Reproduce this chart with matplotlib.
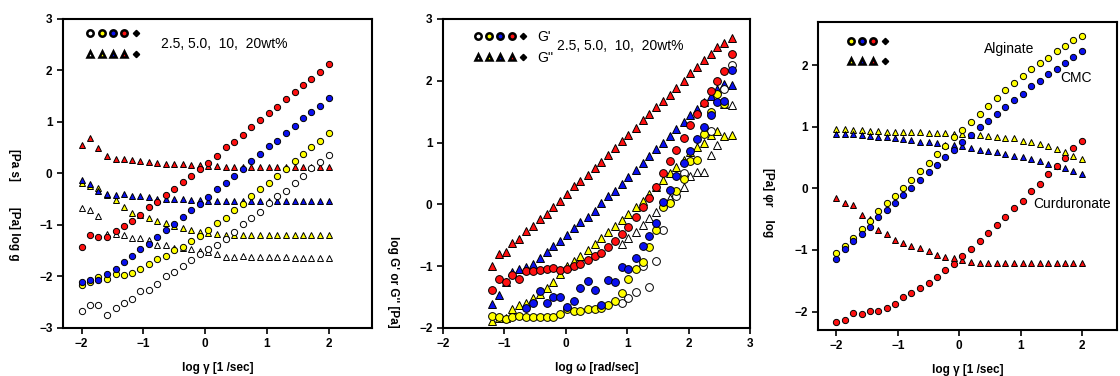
import numpy as np
import matplotlib
matplotlib.use("Agg")
import matplotlib.pyplot as plt
from matplotlib.lines import Line2D
from matplotlib.legend_handler import HandlerTuple

plt.rcParams['font.family'] = ['Liberation Sans', 'DejaVu Sans']

RED, BLUE, YEL, WHITE = '#ff1010', '#0a10f0', '#ffff00', 'white'
nan = np.nan

# ---- panel 1: viscosity vs shear rate (2.5, 5, 10, 20 wt%)
shear = [-2.0, -1.86, -1.73, -1.59, -1.45, -1.32, -1.18, -1.05, -0.91, -0.78,
         -0.64, -0.5, -0.36, -0.23, -0.09, 0.05, 0.19, 0.33, 0.47, 0.61,
         0.75, 0.89, 1.03, 1.17, 1.31, 1.45, 1.59, 1.72, 1.86, 2.0]

p1_circ_white = [-2.67, -2.55, -2.55, -2.75, -2.62, -2.51, -2.44, -2.29, -2.27, -2.15,
                 -2.00, -1.92, -1.80, -1.68, -1.57, -1.46, -1.39, -1.28, -1.13, -0.99,
                 -0.87, -0.75, -0.58, -0.44, -0.34, -0.18, -0.05, 0.10, 0.23, 0.36]
p1_circ_yellow = [-2.16, -2.11, -2.01, -2.04, -1.96, -1.98, -1.93, -1.85, -1.75, -1.67,
                  -1.61, -1.49, -1.43, -1.31, -1.21, -1.10, -0.97, -0.86, -0.70, -0.60,
                  -0.43, -0.30, -0.18, -0.05, 0.08, 0.24, 0.38, 0.52, 0.64, 0.78]
p1_circ_blue = [-2.11, -2.07, -2.06, -1.96, -1.85, -1.72, -1.61, -1.46, -1.36, -1.24,
                -1.10, -0.99, -0.85, -0.70, -0.59, -0.45, -0.30, -0.18, -0.05, 0.08,
                0.24, 0.38, 0.53, 0.63, 0.78, 0.92, 1.07, 1.20, 1.32, 1.47]
p1_circ_red = [-1.43, -1.20, -1.24, -1.24, -1.12, -1.02, -0.92, -0.81, -0.66, -0.56,
               -0.41, -0.30, -0.16, -0.04, 0.09, 0.20, 0.34, 0.51, 0.61, 0.75,
               0.90, 1.04, 1.18, 1.29, 1.44, 1.58, 1.72, 1.83, 1.98, 2.12]
p1_tri_white = [-0.67, -0.71, -0.83, -1.17, -1.17, -1.19, -1.26, -1.26, -1.30, -1.39,
                -1.39, -1.44, -1.44, -1.46, -1.50, -1.53, -1.57, -1.62, -1.62, -1.61,
                -1.62, -1.62, -1.63, -1.63, -1.63, -1.64, -1.64, -1.64, -1.64, -1.64]
p1_tri_yellow = [-0.18, -0.25, -0.29, -0.41, -0.51, -0.66, -0.76, -0.81, -0.86, -0.92,
                 -0.96, -1.02, -1.06, -1.10, -1.13, -1.15, -1.18, -1.20, -1.20, -1.20,
                 -1.20, -1.20, -1.20, -1.20, -1.20, -1.20, -1.20, -1.20, -1.20, -1.20]
p1_tri_blue = [-0.13, -0.20, -0.34, -0.39, -0.42, -0.40, -0.43, -0.44, -0.45, -0.49,
               -0.49, -0.50, -0.50, -0.51, -0.52, -0.53, -0.53, -0.53, -0.53, -0.53,
               -0.53, -0.53, -0.53, -0.53, -0.53, -0.53, -0.53, -0.53, -0.53, -0.53]
p1_tri_red = [0.56, 0.68, 0.50, 0.34, 0.29, 0.28, 0.27, 0.25, 0.23, 0.21,
              0.19, 0.19, 0.18, 0.17, 0.16, 0.15, 0.14, 0.13, 0.13, 0.13,
              0.13, 0.13, 0.13, 0.12, 0.12, 0.12, 0.12, 0.12, 0.12, 0.12]

# ---- panel 2: G' (circles) and G'' (triangles) vs frequency
freq = [-1.2, -1.09, -0.98, -0.87, -0.76, -0.64, -0.53, -0.42, -0.31, -0.2,
        -0.09, 0.02, 0.13, 0.24, 0.36, 0.47, 0.58, 0.69, 0.8, 0.91,
        1.02, 1.14, 1.25, 1.36, 1.47, 1.58, 1.69, 1.8, 1.92, 2.03,
        2.14, 2.25, 2.36, 2.47, 2.58, 2.7]

g2_white = [nan] * 19 + [-0.64, -0.55, -0.45, -0.34, -0.22, -0.12, 0.00, 0.11, 0.20, 0.28,
                         0.46, 0.53, 0.53, 0.80, 0.96, 1.62, 1.61]
g2_yellow = [-1.89, -1.84, -1.84, -1.70, -1.62, -1.60, -1.52, -1.45, -1.35, -1.26,
             -1.12, -1.00, -0.92, -0.84, -0.74, -0.64, -0.55, -0.45, -0.35, -0.25,
             -0.15, -0.04, 0.06, 0.17, 0.28, 0.39, 0.50, 0.60, 0.72, 0.85,
             0.93, 1.00, 1.12, 1.18, 1.11, 1.12]
g2_blue = [-1.61, -1.46, -1.25, -1.10, -1.05, -1.01, -0.96, -0.86, -0.77, -0.68,
           -0.60, -0.49, -0.39, -0.29, -0.20, -0.10, 0.02, 0.13, 0.22, 0.33,
           0.44, 0.56, 0.67, 0.78, 0.89, 0.99, 1.10, 1.22, 1.33, 1.44,
           1.55, 1.65, 1.75, 1.86, 1.94, 1.93]
g2_red = [-0.99, -0.80, -0.77, -0.62, -0.56, -0.43, -0.35, -0.23, -0.15, -0.04,
          0.05, 0.17, 0.30, 0.38, 0.48, 0.59, 0.69, 0.80, 0.91, 1.02,
          1.13, 1.24, 1.37, 1.47, 1.57, 1.68, 1.77, 1.89, 2.00, 2.12,
          2.23, 2.33, 2.43, 2.54, 2.61, 2.69]
g1_white = [nan] * 19 + [-1.60, -1.52, -1.41, -1.00, -1.33, -0.92, -0.41, nan, 0.14, 0.51,
                         nan, nan, nan, 1.18, nan, 1.87, 2.26]
g1_yellow = [-1.80, -1.83, -1.85, -1.82, -1.80, -1.83, -1.83, -1.83, -1.83, -1.83,
             -1.78, -1.69, -1.72, -1.72, -1.69, -1.69, -1.67, -1.63, -1.57, -1.44,
             -1.20, -1.05, -0.93, -0.69, -0.42, -0.05, 0.02, 0.22, 0.41, 0.70,
             0.72, 1.14, 1.49, 1.78, 1.63, nan]
g1_blue = [nan] * 5 + [-1.67, -1.60, -1.40, -1.59, -1.50, -1.50, -1.66, -1.56, -1.35, -1.24,
                       -1.38, -1.63, -1.22, -1.26, -1.02, -1.05, -0.87, -0.67, -0.51, -0.30,
                       0.04, 0.24, 0.46, 0.67, 0.86, 1.06, 1.25, 1.44, 1.65, 1.68, 2.18]
g1_red = [-1.39, -1.20, -1.25, -1.14, -1.20, -1.08, -1.07, -1.06, -1.05, -1.03,
          -1.06, -1.05, -0.99, -0.97, -0.90, -0.84, -0.78, -0.69, -0.59, -0.48,
          -0.36, -0.21, -0.04, 0.11, 0.28, 0.51, 0.70, 0.88, 1.07, 1.28,
          1.46, 1.64, 1.83, 2.00, 2.16, 2.43]

# ---- panel 3: Alginate (yellow), CMC (blue), Curduronate (red)
p3_circ_yellow = [-1.05, -0.93, -0.80, -0.66, -0.53, -0.37, -0.24, -0.12, 0.01, 0.14,
                  0.28, 0.41, 0.55, 0.68, 0.83, 0.95, 1.08, 1.21, 1.33, 1.47,
                  1.59, 1.71, 1.82, 1.93, 2.03, 2.12, 2.23, 2.31, 2.41, 2.47]
p3_circ_blue = [-1.14, -0.99, -0.86, -0.74, -0.62, -0.47, -0.35, -0.23, -0.11, 0.01,
                0.13, 0.26, 0.38, 0.51, 0.63, 0.75, 0.87, 0.99, 1.10, 1.20,
                1.32, 1.44, 1.53, 1.66, 1.74, 1.86, 1.94, 2.04, 2.13, 2.23]
p3_circ_red = [-2.17, -2.14, -2.02, -2.04, -1.99, -1.99, -1.95, -1.88, -1.77, -1.70,
               -1.62, -1.54, -1.44, -1.32, -1.23, -1.10, -0.99, -0.86, -0.72, -0.59,
               -0.47, -0.32, -0.20, -0.05, 0.07, 0.23, 0.37, 0.50, 0.65, 0.77]
p3_tri_yellow = [0.96, 0.96, 0.95, 0.95, 0.93, 0.93, 0.91, 0.91, 0.91, 0.91,
                 0.91, 0.90, 0.90, 0.90, 0.89, 0.88, 0.87, 0.86, 0.85, 0.83,
                 0.82, 0.81, 0.77, 0.75, 0.72, 0.69, 0.64, 0.59, 0.53, 0.48]
p3_tri_blue = [0.89, 0.88, 0.88, 0.87, 0.85, 0.84, 0.83, 0.82, 0.80, 0.78,
               0.76, 0.75, 0.73, 0.71, 0.70, 0.68, 0.66, 0.63, 0.61, 0.59,
               0.56, 0.53, 0.51, 0.47, 0.44, 0.40, 0.37, 0.33, 0.28, 0.24]
p3_tri_red = [-0.15, -0.24, -0.27, -0.44, -0.50, -0.68, -0.74, -0.84, -0.89, -0.93,
              -0.97, -1.01, -1.08, -1.11, -1.13, -1.16, -1.19, -1.21, -1.22, -1.22,
              -1.22, -1.22, -1.22, -1.22, -1.22, -1.22, -1.22, -1.22, -1.22, -1.22]

conc_text = "2.5, 5.0,  10,  20wt%"


def pts(ax, x, y, marker, color, ms):
    ax.plot(x, y, ls='none', marker=marker, mfc=color, mec='black', mew=0.7, ms=ms)


def style(ax, xlim, ylim, xticks, yticks):
    ax.set_xlim(*xlim)
    ax.set_ylim(*ylim)
    ax.set_xticks(xticks)
    ax.set_yticks(yticks)
    ax.tick_params(direction='out', length=4, width=1.2, labelsize=8.5, top=False, right=False)
    for lab in ax.get_xticklabels() + ax.get_yticklabels():
        lab.set_fontweight('bold')
    for sp in ax.spines.values():
        sp.set_linewidth(1.5)


def legend_rows(ax, colors, labels, anchor, ms):
    rows = []
    for shape in ['o', '^']:
        row = tuple(Line2D([], [], ls='none', marker=shape, mfc=c, mec='black', mew=1.8, ms=ms)
                    for c in colors)
        row += (Line2D([], [], ls='none', marker='D', mfc='black', mec='black', ms=3.2),)
        rows.append(row)
    ax.legend(rows, labels, handler_map={tuple: HandlerTuple(ndivide=None, pad=0.0)},
              loc='upper left', bbox_to_anchor=anchor, frameon=False, fontsize=10,
              handlelength=len(colors) * 0.82 + 0.8, handletextpad=0.6,
              labelspacing=0.5, borderaxespad=0, borderpad=0)


fig = plt.figure(figsize=(11.2, 3.76), dpi=100)

# panel 1
ax1 = fig.add_axes([0.05625, 0.1277, 0.2759, 0.8218])
for y, c in [(p1_tri_white, WHITE), (p1_tri_yellow, YEL), (p1_tri_blue, BLUE), (p1_tri_red, RED)]:
    pts(ax1, shear, y, '^', c, 4.3)
for y, c in [(p1_circ_white, WHITE), (p1_circ_yellow, YEL), (p1_circ_blue, BLUE), (p1_circ_red, RED)]:
    pts(ax1, shear, y, 'o', c, 4.5)
style(ax1, (-2.3, 2.7), (-3, 3), [-2, -1, 0, 1, 2], [-3, -2, -1, 0, 1, 2, 3])
legend_rows(ax1, [WHITE, YEL, BLUE, RED], ['', ''], (0.07, 0.975), 4.6)
ax1.text(0.317, 0.919, conc_text, transform=ax1.transAxes, fontsize=10, va='center')
ax1.set_xlabel('log γ [1 /sec]', fontsize=8.5, fontweight='bold', labelpad=8)
fig.text(0.0125, 0.455, '[Pa s]        [Pa] log g', rotation=270, ha='center', va='center',
         fontsize=8.5, fontweight='bold')

# panel 2
ax2 = fig.add_axes([0.3955, 0.1277, 0.2741, 0.8218])
for y, c in [(g2_white, WHITE), (g2_yellow, YEL), (g2_blue, BLUE), (g2_red, RED)]:
    pts(ax2, freq, y, '^', c, 5.2)
for y, c in [(g1_white, WHITE), (g1_yellow, YEL), (g1_blue, BLUE), (g1_red, RED)]:
    pts(ax2, freq, y, 'o', c, 5.6)
style(ax2, (-2, 3), (-2, 3), [-2, -1, 0, 1, 2, 3], [-2, -1, 0, 1, 2, 3])
legend_rows(ax2, [WHITE, YEL, BLUE, RED], ["G'", "G''"], (0.095, 0.965), 4.6)
ax2.text(0.371, 0.913, conc_text, transform=ax2.transAxes, fontsize=10, va='center')
ax2.set_xlabel('log ω [rad/sec]', fontsize=8.5, fontweight='bold', labelpad=8)
fig.text(0.351, 0.25, "log G' or G'' [Pa]", rotation=270, ha='center', va='center',
         fontsize=8.5, fontweight='bold')

# panel 3
ax3 = fig.add_axes([0.7304, 0.1223, 0.267, 0.819])
for y, c in [(p3_tri_yellow, YEL), (p3_tri_blue, BLUE), (p3_tri_red, RED)]:
    pts(ax3, shear, y, '^', c, 4.3)
for y, c in [(p3_circ_yellow, YEL), (p3_circ_blue, BLUE), (p3_circ_red, RED)]:
    pts(ax3, shear, y, 'o', c, 4.5)
style(ax3, (-2.3, 2.57), (-2.3, 2.7), [-2, -1, 0, 1, 2], [-2, -1, 0, 1, 2])
legend_rows(ax3, [YEL, BLUE, RED], ['', ''], (0.09, 0.96), 4.6)
ax3.text(0.40, 2.26, 'Alginate', fontsize=10, va='center')
ax3.text(1.64, 1.80, 'CMC', fontsize=10, va='center')
ax3.text(1.20, -0.26, 'Curduronate', fontsize=10, va='center')
ax3.set_xlabel('log γ [1 /sec]', fontsize=8.5, fontweight='bold', labelpad=8)
fig.text(0.686, 0.46, '[Pa] φr    log', rotation=270, ha='center', va='center',
         fontsize=8.5, fontweight='bold')

fig.savefig('out.png', dpi=100)
plt.close(fig)
